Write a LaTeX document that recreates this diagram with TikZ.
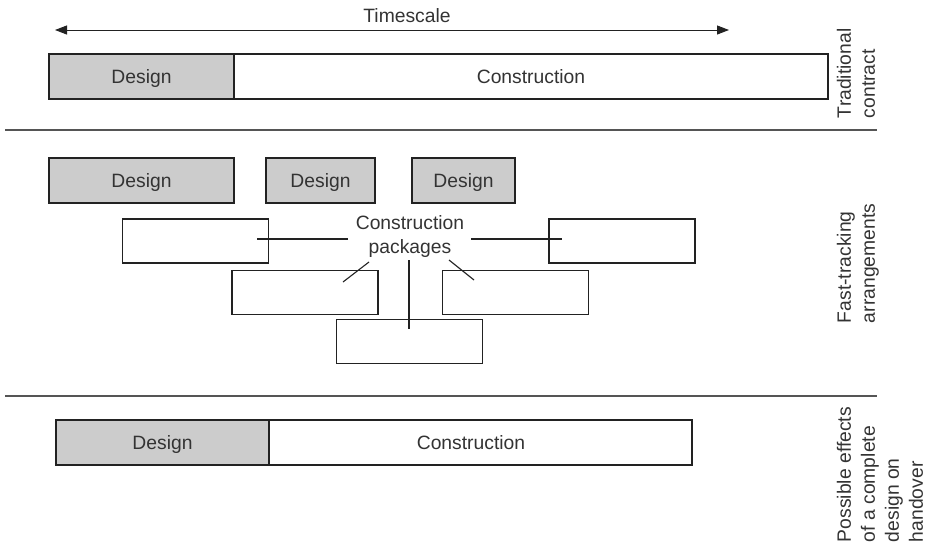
\documentclass[tikz,border=0pt]{standalone}
\usepackage{fontspec}
\setmainfont{Liberation Sans}
\usetikzlibrary{arrows.meta}
\definecolor{ink}{HTML}{333333}
\definecolor{edge}{HTML}{222222}
\definecolor{shade}{HTML}{CCCCCC}
\definecolor{rulegray}{HTML}{555555}

\begin{document}
\begin{tikzpicture}[x=1pt,y=-1pt,
  every node/.style={font=\fontsize{19.3}{24}\selectfont, text=ink, inner sep=0pt, outer sep=0pt},
  bar/.style={draw=edge, line width=1.3pt, rectangle, minimum height=45pt, text depth=0pt},
  designbox/.style={bar, fill=shade},
  constbox/.style={bar, fill=white},
  pkg/.style={draw=edge, line width=1.3pt, rectangle, fill=white, minimum width=146pt, minimum height=44pt},
  leader/.style={draw=edge, line width=1.1pt},
  divider/.style={draw=rulegray, line width=1.5pt},
  side/.style={rotate=90, anchor=west, align=left}
]
\useasboundingbox (0,0) rectangle (927,544);

% --- timescale arrow
\coordinate (tl) at (55,30);
\coordinate (tr) at (729,30);
\draw[edge, line width=1pt, {Triangle[length=12pt,width=9pt]}-{Triangle[length=12pt,width=9pt]}] (tl) -- (tr);
\node (time) at (407,15.5) {Timescale};

% --- traditional contract
\node[designbox, minimum width=185pt] (td) at (141.5,76.5) {Design};
\node[constbox, minimum width=594pt] (tc) at (531,76.5) {Construction};
\node[side] (trad) at (856,118) {Traditional\\contract};

\coordinate (s1l) at (5,130);
\coordinate (s1r) at (877,130);
\draw[divider] (s1l) -- (s1r);

% --- fast-tracking
\node[designbox, minimum width=185pt] (fd1) at (141.5,180.5) {Design};
\node[designbox, minimum width=109pt] (fd2) at (320.5,180.5) {Design};
\node[designbox, minimum width=103pt] (fd3) at (463.5,180.5) {Design};

\node[pkg] (p1) at (195.5,241) {};
\node[pkg] (p2) at (305,292.5) {};
\node[pkg] (p3) at (409.5,341.5) {};
\node[pkg] (p4) at (515.5,292.5) {};
\node[pkg] (p5) at (622,241) {};

\node[align=center] (lab) at (410,237) {Construction\\packages};

\coordinate (a1) at (348,239);  \coordinate (b1) at (257,239);
\coordinate (a2) at (369,262);  \coordinate (b2) at (343,282);
\coordinate (a3) at (409,260);  \coordinate (b3) at (409,329);
\coordinate (a4) at (449,260);  \coordinate (b4) at (474,280);
\coordinate (a5) at (471,239);  \coordinate (b5) at (562,239);
\draw[leader] (a1) -- (b1);
\draw[leader] (a2) -- (b2);
\draw[leader] (a3) -- (b3);
\draw[leader] (a4) -- (b4);
\draw[leader] (a5) -- (b5);

\node[side] (fast) at (858,323) {Fast-tracking\\arrangements};

\coordinate (s2l) at (5,396);
\coordinate (s2r) at (877,396);
\draw[divider] (s2l) -- (s2r);

% --- complete design on handover
\node[designbox, minimum width=213pt] (hd) at (162.5,442.5) {Design};
\node[constbox, minimum width=423pt] (hc) at (480.5,442.5) {};
\node[text depth=0pt] (hct) at (471,442.5) {Construction};
\node[side] (poss) at (880,542) {Possible effects\\of a complete\\design on\\handover};
\end{tikzpicture}
\end{document}
